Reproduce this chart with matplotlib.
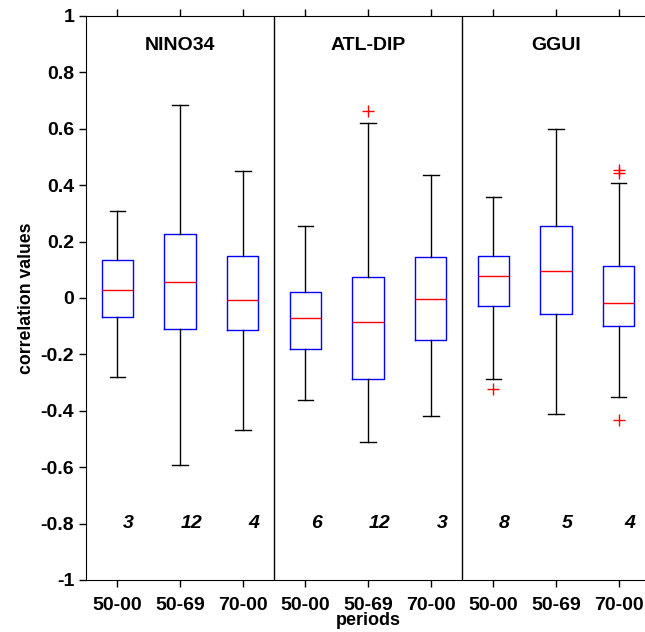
import matplotlib
matplotlib.use("Agg")
import matplotlib.pyplot as plt

plt.rcParams['font.family'] = ['Liberation Sans', 'DejaVu Sans']

groups = ["NINO34", "ATL-DIP", "GGUI"]
periods = ["50-00", "50-69", "70-00"]
counts = [3, 12, 4, 6, 12, 3, 8, 5, 4]

whislo = [-0.279, -0.592, -0.469, -0.362, -0.510, -0.420, -0.286, -0.410, -0.350]
q1 = [-0.066, -0.111, -0.115, -0.180, -0.287, -0.150, -0.029, -0.058, -0.100]
med = [0.028, 0.056, -0.006, -0.071, -0.086, -0.002, 0.077, 0.097, -0.017]
q3 = [0.136, 0.226, 0.148, 0.021, 0.076, 0.146, 0.148, 0.255, 0.115]
whishi = [0.310, 0.683, 0.450, 0.256, 0.619, 0.436, 0.359, 0.599, 0.408]
fliers = [[], [], [], [], [0.664], [], [-0.324], [], [0.454, 0.444, -0.432]]

stats = []
for i in range(9):
    stats.append(dict(whislo=whislo[i], q1=q1[i], med=med[i], q3=q3[i],
                      whishi=whishi[i], fliers=fliers[i]))

fig = plt.figure(figsize=(6.45, 6.32), dpi=100)
ax = fig.add_axes([86/645, 52/632, 564/645, 564/632])

pos = list(range(1, 10))
ax.bxp(stats, positions=pos, widths=0.5, capwidths=0.25, showfliers=True,
       boxprops=dict(color='blue', linewidth=1.0),
       medianprops=dict(color='red', linewidth=1.0),
       whiskerprops=dict(color='black', linewidth=1.0),
       capprops=dict(color='black', linewidth=1.0),
       flierprops=dict(marker='+', markeredgecolor='red', markersize=8,
                       markeredgewidth=1.0, linestyle='none'))

for xd in [3.5, 6.5]:
    ax.axvline(xd, color='black', linewidth=1.0)

for g, name in enumerate(groups):
    ax.text(2 + 3*g, 0.895, name, ha='center', va='center',
            fontsize=14, fontweight='bold')

for i, c in enumerate(counts):
    ax.text(pos[i] + 0.18, -0.8, str(c), ha='center', va='center',
            fontsize=14, fontweight='bold', style='italic')

ax.set_xlim(0.5, 9.5)
ax.set_ylim(-1, 1)
yt = [1, 0.8, 0.6, 0.4, 0.2, 0, -0.2, -0.4, -0.6, -0.8, -1]
ax.set_yticks(yt)
ax.set_yticklabels([("%g" % v) for v in yt])
ax.set_xticks(pos)
ax.set_xticklabels(periods * 3)
ax.tick_params(axis='both', direction='out', length=5, width=1,
               labelsize=14)
ax.tick_params(axis='x', top=True, pad=7)
for lab in ax.get_xticklabels() + ax.get_yticklabels():
    lab.set_fontweight('bold')

ax.set_xlabel("periods", fontsize=13, fontweight='bold', labelpad=-1)
ax.set_ylabel("correlation values", fontsize=12.7, fontweight='bold', labelpad=4)

fig.savefig("out.png", dpi=100)
